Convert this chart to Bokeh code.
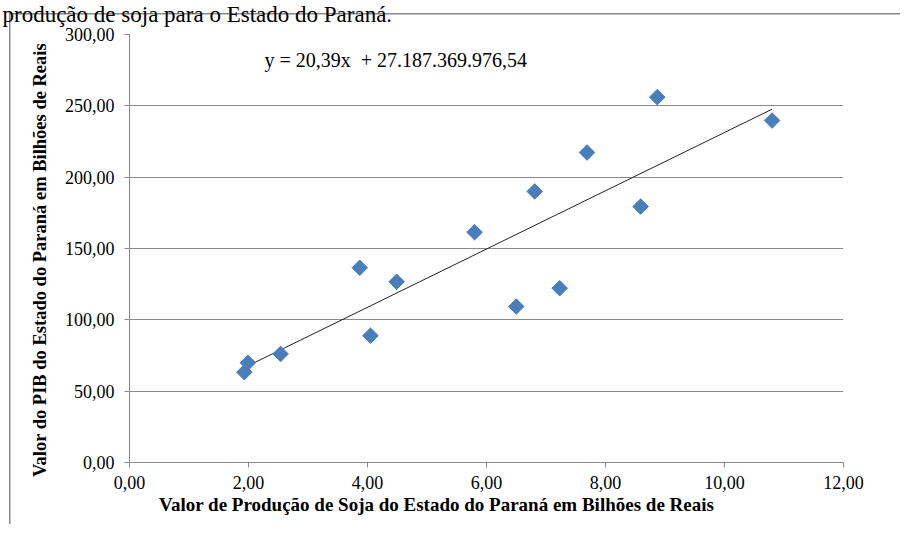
import numpy as np
from bokeh.plotting import figure
from bokeh.models import Range1d, FixedTicker, Label, Title
from bokeh.embed import file_html
from bokeh.resources import INLINE

# --- data ---
soja = [1.93, 1.99, 2.54, 3.87, 4.05, 4.49, 5.80, 6.50, 6.81, 7.23, 7.69, 8.59, 8.87, 10.80]
pib = [63.3, 69.9, 76.1, 136.5, 88.9, 126.7, 161.4, 109.3, 190.0, 122.2, 217.3, 179.4, 256.1, 239.7]

x_ticks = [0, 2, 4, 6, 8, 10, 12]
x_tick_labels = ["0,00", "2,00", "4,00", "6,00", "8,00", "10,00", "12,00"]
y_ticks = [0, 50, 100, 150, 200, 250, 300]
y_tick_labels = ["0,00", "50,00", "100,00", "150,00", "200,00", "250,00", "300,00"]

equation_text = "y = 20,39x \u00a0+ 27.187.369.976,54"
x_title = "Valor de Produção de Soja do Estado do Paraná em Bilhões de Reais"
y_title = "Valor do PIB do Estado do Paraná em Bilhões de Reais"
page_text = "produção de soja para o Estado do Paraná."

FONT = "Liberation Serif"
GREY = "#8a8a8a"

p = figure(
    frame_width=714, frame_height=428,
    min_border_left=129, min_border_right=57,
    min_border_top=34, min_border_bottom=62,
    x_range=Range1d(0, 12), y_range=Range1d(0, 300),
    output_backend="svg", toolbar_location=None,
)
p.outline_line_color = None
p.background_fill_color = "white"
p.border_fill_color = None
p.styles = {
    "background-color": "white",
    "background-image": "linear-gradient(#8a8a8a, #8a8a8a), linear-gradient(#8a8a8a, #8a8a8a)",
    "background-position": "9px 13px, 9px 13px",
    "background-size": "1.5px 100%, 100% 1.5px",
    "background-repeat": "no-repeat",
}

# axes
for ax in (p.xaxis[0], p.yaxis[0]):
    ax.axis_line_color = GREY
    ax.major_tick_line_color = GREY
    ax.minor_tick_line_color = None
    ax.major_tick_out = 5
    ax.major_tick_in = 0
    ax.major_label_text_font = FONT
    ax.major_label_text_font_size = "18px"
    ax.major_label_text_color = "#000000"
    ax.axis_label_text_font = FONT
    ax.axis_label_text_font_style = "bold"
    ax.axis_label_text_color = "#000000"

p.xaxis.ticker = FixedTicker(ticks=x_ticks)
p.xaxis.major_label_overrides = {t: l for t, l in zip(x_ticks, x_tick_labels)}
p.xaxis.major_label_standoff = 8
p.xaxis.axis_label = x_title + "\u00a0" * 21
p.xaxis.axis_label_text_font_size = "19px"
p.xaxis.axis_label_standoff = 2
p.yaxis.ticker = FixedTicker(ticks=y_ticks)
p.yaxis.major_label_overrides = {t: l for t, l in zip(y_ticks, y_tick_labels)}
p.yaxis.major_label_standoff = 10
p.yaxis.axis_label = y_title + "\u00a0" * 5
p.yaxis.axis_label_text_font_size = "18.5px"
p.yaxis.axis_label_standoff = 12

p.xgrid.grid_line_color = None
p.ygrid.grid_line_color = GREY
p.ygrid.grid_line_width = 1

# trendline (least squares through the points)
slope, intercept = np.polyfit(soja, pib, 1)
xl = [min(soja), max(soja)]
yl = [slope * v + intercept for v in xl]
p.line(xl, yl, line_color="#222222", line_width=1)

# points
p.scatter(soja, pib, marker="square", size=11, angle=np.pi / 4,
          fill_color="#4a7ebb", line_color="#4a7ebb")

# texts
p.add_layout(Label(x=2.27, y=282, text=equation_text, text_font=FONT,
                   text_font_size="20px", text_baseline="middle", text_align="left",
                   text_color="#000000"))
p.add_layout(Title(text="\u00a0", standoff=2, text_font_size="2px"), "above")
p.add_layout(Title(text=page_text, align="left", offset=-127, standoff=0,
                   vertical_align="top", text_font=FONT,
                   text_font_size="23px", text_font_style="normal",
                   text_color="#000000"), "above")

open("out.html", "w").write(file_html(p, INLINE))
